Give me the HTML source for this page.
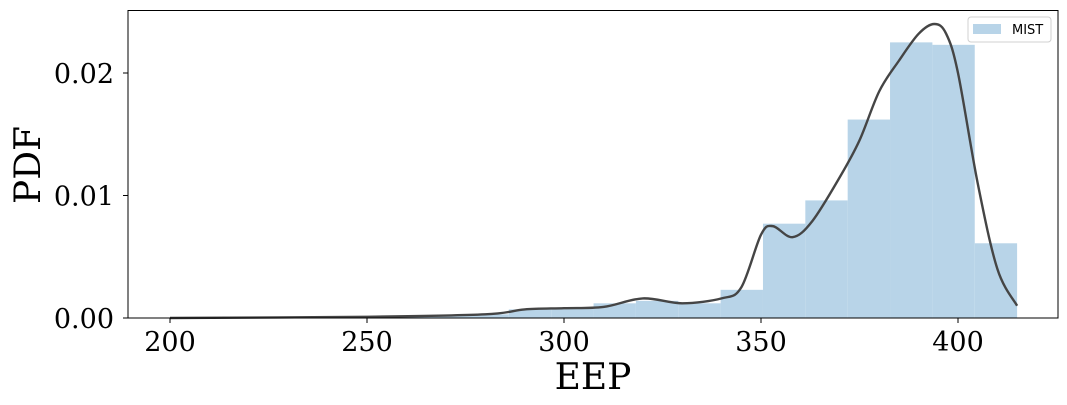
<!DOCTYPE html>
<html><head><meta charset="utf-8"><style>
html,body{margin:0;padding:0;background:#fff;}
svg{display:block;}
</style></head><body>
<svg id="chart" width="1067" height="405" xmlns="http://www.w3.org/2000/svg">
<g id="bars"></g>
<path id="kde" fill="none" stroke="#454545" stroke-width="2.4"/>
<rect x="128" y="10.5" width="930" height="307.5" fill="none" stroke="#000" stroke-width="1"/>
<g id="xt" font-family="'DejaVu Serif','Liberation Serif',serif" font-size="27" text-anchor="middle"></g>
<g id="yt" font-family="'DejaVu Serif','Liberation Serif',serif" font-size="27" text-anchor="end"></g>
<text x="593" y="389" font-family="'DejaVu Serif','Liberation Serif',serif" font-size="36" text-anchor="middle">EEP</text>
<text transform="translate(40,165) rotate(-90)" font-family="'DejaVu Serif','Liberation Serif',serif" font-size="36" text-anchor="middle">PDF</text>
<g>
<rect x="968" y="17" width="83" height="25" rx="3" fill="#fff" stroke="#d0d0d0"/>
<rect x="973" y="24" width="28" height="10" fill="#b8d4e8"/>
<text x="1012" y="34" font-family="'DejaVu Sans','Liberation Sans',sans-serif" font-size="13">MIST</text>
</g>
</svg>
<script>
const binStart = 200;
const binWidth = 10.75;
const binHeights = [0.00002,0.00003,0.00005,0.0001,0.00015,0.0002,0.0002,0.0003,0.0007,0.0008,0.0012,0.0014,0.0012,0.0023,0.0077,0.0096,0.0162,0.0225,0.0223,0.0061];
const kdeX = [200,250,280,290,300,310,320,330,340,345,350,353,358,363,370,375,380,385,390,394,397,400,405,410,415];
const kdeY = [0,0.0001,0.0003,0.0007,0.0008,0.0009,0.0016,0.0012,0.0016,0.0025,0.0068,0.0075,0.0066,0.0079,0.0115,0.0145,0.0185,0.021,0.0232,0.024,0.0232,0.02,0.011,0.004,0.001];
const xTicks = [200,250,300,350,400];
const yTicks = [0,0.01,0.02];
const yTickLabels = ["0.00","0.01","0.02"];
const NS="http://www.w3.org/2000/svg";
const xs = v => 170 + (v-200)*3.94;
const ys = v => 318 - v*12250;
const bars=document.getElementById('bars');
binHeights.forEach((h,i)=>{
  const r=document.createElementNS(NS,'rect');
  const x0=xs(binStart+i*binWidth), x1=xs(binStart+(i+1)*binWidth);
  r.setAttribute('x',x0);r.setAttribute('width',x1-x0);
  r.setAttribute('y',ys(h));r.setAttribute('height',318-ys(h));
  r.setAttribute('fill','#b8d4e8');
  
  
  bars.appendChild(r);
});
const pts=kdeX.map((x,i)=>[xs(x),ys(kdeY[i])]);
let d='M'+pts[0][0]+','+pts[0][1];
for(let i=0;i<pts.length-1;i++){
  const p0=pts[Math.max(0,i-1)],p1=pts[i],p2=pts[i+1],p3=pts[Math.min(pts.length-1,i+2)];
  const c1=[p1[0]+(p2[0]-p0[0])/6,p1[1]+(p2[1]-p0[1])/6];
  const c2=[p2[0]-(p3[0]-p1[0])/6,p2[1]-(p3[1]-p1[1])/6];
  d+=' C'+c1+' '+c2+' '+p2;
}
document.getElementById('kde').setAttribute('d',d);
const xt=document.getElementById('xt');
xTicks.forEach(v=>{
  const l=document.createElementNS(NS,'line');
  l.setAttribute('x1',xs(v));l.setAttribute('x2',xs(v));l.setAttribute('y1',318);l.setAttribute('y2',323);l.setAttribute('stroke','#000');
  
  
  xt.appendChild(l);
  const t=document.createElementNS(NS,'text');
  t.setAttribute('x',xs(v));t.setAttribute('y',351);t.textContent=v;
  
  
  xt.appendChild(t);
});
const yt=document.getElementById('yt');
yTicks.forEach((v,i)=>{
  const l=document.createElementNS(NS,'line');
  l.setAttribute('x1',123);l.setAttribute('x2',128);l.setAttribute('y1',ys(v));l.setAttribute('y2',ys(v));l.setAttribute('stroke','#000');
  
  
  yt.appendChild(l);
  const t=document.createElementNS(NS,'text');
  t.setAttribute('x',114);t.setAttribute('y',ys(v)+10);t.textContent=yTickLabels[i];
  
  
  yt.appendChild(t);
});
</script>
</body></html>
